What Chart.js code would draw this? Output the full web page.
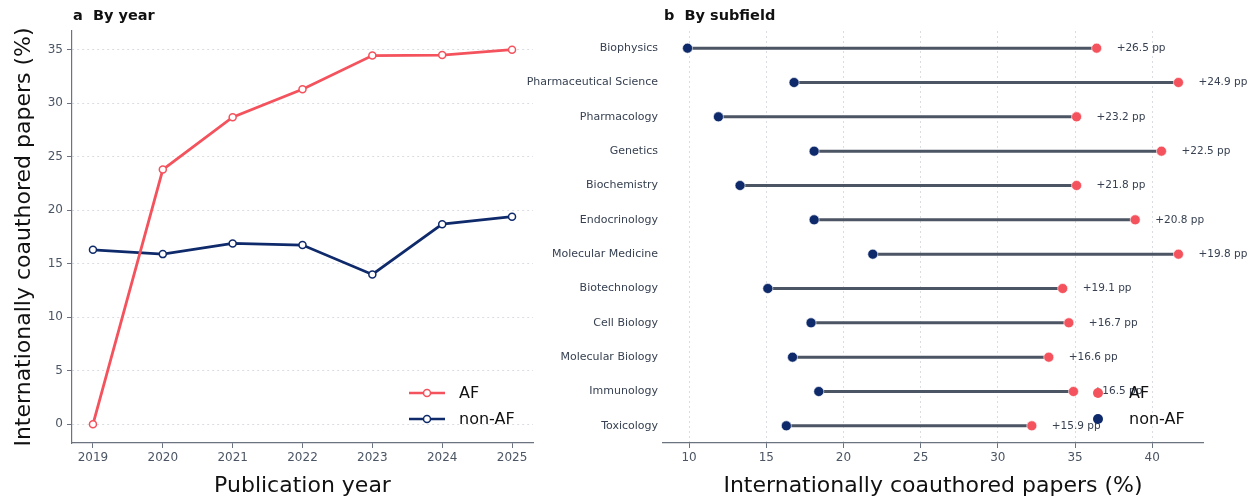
<!DOCTYPE html>
<html>
<head>
<meta charset="utf-8">
<script src="https://cdn.jsdelivr.net/npm/chart.js@4"></script>
<style>
  html, body { margin: 0; padding: 0; background: #ffffff; }
  #wrap { position: relative; width: 1255px; height: 500px; overflow: hidden; }
  #yearCanvasBox { position: absolute; left: 0; top: 0; width: 545px; height: 500px; }
  #fieldCanvasBox { position: absolute; left: 520px; top: 0; width: 735px; height: 500px; }
</style>
</head>
<body>
<div id="wrap">
  <div id="fieldCanvasBox"><canvas id="fieldChart" width="735" height="500"></canvas></div>
  <div id="yearCanvasBox"><canvas id="yearChart" width="545" height="500"></canvas></div>
</div>
<script>
// panel a: by year
const years = [2019, 2020, 2021, 2022, 2023, 2024, 2025];
const afByYear = [0.0, 23.8, 28.7, 31.3, 34.45, 34.5, 35.0];
const nonAfByYear = [16.3, 15.9, 16.9, 16.75, 14.0, 18.7, 19.4];
const yearTicks = [0, 5, 10, 15, 20, 25, 30, 35];

// panel b: by subfield
const subfields = [
    "Biophysics", "Pharmaceutical Science", "Pharmacology", "Genetics",
    "Biochemistry", "Endocrinology", "Molecular Medicine", "Biotechnology",
    "Cell Biology", "Molecular Biology", "Immunology", "Toxicology"
];
const afBySubfield = [36.4, 41.7, 35.1, 40.6, 35.1, 38.9, 41.7, 34.2, 34.6, 33.3, 34.9, 32.2];
const nonAfBySubfield = [9.9, 16.8, 11.9, 18.1, 13.3, 18.1, 21.9, 15.1, 17.9, 16.7, 18.4, 16.3];
const gapLabels = ["+26.5 pp", "+24.9 pp", "+23.2 pp", "+22.5 pp", "+21.8 pp", "+20.8 pp",
                   "+19.8 pp", "+19.1 pp", "+16.7 pp", "+16.6 pp", "+16.5 pp", "+15.9 pp"];
const subfieldTicks = [10, 15, 20, 25, 30, 35, 40];

const AF_RED = "#f4525c";
const NON_AF_NAVY = "#0f2a6b";
const AXIS_GRAY = "#6b7280";
const TICK_TEXT = "#4b5563";
const GRID_GRAY = "#d9dce1";

Chart.defaults.font.family = "'DejaVu Sans', sans-serif";
Chart.defaults.color = TICK_TEXT;
Chart.defaults.animation = false;

// small helper plugin for the "a  By year" style panel titles
const panelTitle = {
    id: "panelTitle",
    afterDraw(chart, args, opts) {
        const ctx = chart.ctx;
        ctx.save();
        ctx.font = "bold 14.5px 'DejaVu Sans'";
        ctx.fillStyle = "#111111";
        ctx.textBaseline = "middle";
        ctx.textAlign = "left";
        ctx.fillText(opts.text, chart.chartArea.left + 1, 16);
        ctx.restore();
    }
};

// legend placed inside the lower right corner of the plot
const cornerLegend = {
    id: "cornerLegend",
    afterDraw(chart, args, opts) {
        let ctx = chart.ctx;
        let area = chart.chartArea;
        ctx.save();
        ctx.font = "16px 'DejaVu Sans'";
        ctx.textBaseline = "middle";
        ctx.textAlign = "left";
        opts.items.forEach((item, i) => {
            let y = area.bottom - opts.rowOffsets[i];
            let mx = area.right - opts.markerOffset;
            if (opts.style === "line") {
                ctx.strokeStyle = item.color;
                ctx.lineWidth = 2.6;
                ctx.beginPath();
                ctx.moveTo(mx - 18, y);
                ctx.lineTo(mx + 18, y);
                ctx.stroke();
                ctx.beginPath();
                ctx.arc(mx, y, 3.5, 0, Math.PI * 2);
                ctx.fillStyle = "#ffffff";
                ctx.fill();
                ctx.lineWidth = 1.5;
                ctx.stroke();
            } else {
                ctx.beginPath();
                ctx.arc(mx, y, 5, 0, Math.PI * 2);
                ctx.fillStyle = item.color;
                ctx.fill();
            }
            ctx.fillStyle = "#111111";
            ctx.fillText(item.label, area.right - opts.textOffset, y + 1);
        });
        ctx.restore();
    }
};

// "+xx.x pp" text to the right of each AF dot
const gapText = {
    id: "gapText",
    afterDatasetsDraw(chart) {
        let ctx = chart.ctx;
        let xScale = chart.scales.x;
        let yScale = chart.scales.y;
        ctx.save();
        ctx.font = "10.5px 'DejaVu Sans'";
        ctx.fillStyle = "#374151";
        ctx.textBaseline = "middle";
        ctx.textAlign = "left";
        for (let i = 0; i < subfields.length; i++) {
            let x = xScale.getPixelForValue(afBySubfield[i]) + 20;
            let y = yScale.getPixelForValue(i);
            ctx.fillText(gapLabels[i], x, y);
        }
        ctx.restore();
    }
};

function fixedTicks(values) {
    return function (scale) {
        scale.ticks = values.map(v => ({ value: v }));
    };
}

function lineSeries(label, values, color) {
    return {
        label: label,
        data: values.map((v, i) => ({ x: years[i], y: v })),
        borderColor: color,
        borderWidth: 2.8,
        pointRadius: 3.5,
        pointBorderWidth: 1.5,
        pointBackgroundColor: "#ffffff",
        pointBorderColor: color,
        tension: 0
    };
}

new Chart(document.getElementById("yearChart"), {
    type: "line",
    data: {
        datasets: [
            lineSeries("AF", afByYear, AF_RED),
            lineSeries("non-AF", nonAfByYear, NON_AF_NAVY)
        ]
    },
    options: {
        responsive: false,
        layout: { padding: { top: 31, right: 12, left: 0, bottom: 0 } },
        plugins: {
            legend: { display: false },
            tooltip: { enabled: false },
            panelTitle: { text: "a  By year" },
            cornerLegend: {
                style: "line",
                items: [{ label: "AF", color: AF_RED }, { label: "non-AF", color: NON_AF_NAVY }],
                rowOffsets: [50, 24],
                markerOffset: 106,
                textOffset: 74
            }
        },
        scales: {
            x: {
                type: "linear",
                min: 2018.7,
                max: 2025.3,
                afterBuildTicks: fixedTicks(years),
                afterFit(scale) { scale.height = 57; },
                grid: { drawOnChartArea: false, tickLength: 5, tickColor: AXIS_GRAY, tickWidth: 1 },
                border: { color: AXIS_GRAY, width: 1.2 },
                ticks: { padding: 3, font: { size: 12 }, color: TICK_TEXT, callback: v => String(v) },
                title: { display: true, text: "Publication year", color: "#111111",
                         font: { size: 22 }, padding: { top: 0, bottom: 1 } }
            },
            y: {
                type: "linear",
                min: -1.75,
                max: 36.75,
                afterBuildTicks: fixedTicks(yearTicks),
                afterFit(scale) { scale.width = 72; },
                grid: { color: GRID_GRAY, lineWidth: 1, tickLength: 5, tickColor: AXIS_GRAY, tickWidth: 1 },
                border: { color: AXIS_GRAY, width: 1.2, dash: [2, 3] },
                ticks: { padding: 4, font: { size: 12 }, color: TICK_TEXT },
                title: { display: true, text: "Internationally coauthored papers (%)", color: "#111111",
                         font: { size: 22 }, padding: { top: 11, bottom: 0 } }
            }
        }
    },
    plugins: [panelTitle, cornerLegend]
});

new Chart(document.getElementById("fieldChart"), {
    type: "bar",
    data: {
        labels: subfields,
        datasets: [
            {
                type: "line",
                label: "AF",
                data: afBySubfield,
                showLine: false,
                pointRadius: 5,
                pointBorderWidth: 0.6,
                pointBackgroundColor: AF_RED,
                pointBorderColor: "#ffffff",
                order: 1
            },
            {
                type: "line",
                label: "non-AF",
                data: nonAfBySubfield,
                showLine: false,
                pointRadius: 5,
                pointBorderWidth: 0.6,
                pointBackgroundColor: NON_AF_NAVY,
                pointBorderColor: "#ffffff",
                order: 1
            },
            {
                type: "bar",
                label: "gap",
                data: nonAfBySubfield.map((v, i) => [v, afBySubfield[i]]),
                backgroundColor: "#4b5563",
                barThickness: 2.4,
                borderSkipped: false,
                order: 2
            }
        ]
    },
    options: {
        responsive: false,
        indexAxis: "y",
        layout: { padding: { top: 31, right: 52, left: 0, bottom: 0 } },
        plugins: {
            legend: { display: false },
            tooltip: { enabled: false },
            panelTitle: { text: "b  By subfield" },
            cornerLegend: {
                style: "dot",
                items: [{ label: "AF", color: AF_RED }, { label: "non-AF", color: NON_AF_NAVY }],
                rowOffsets: [50, 24],
                markerOffset: 105,
                textOffset: 74
            }
        },
        scales: {
            x: {
                type: "linear",
                min: 8.31,
                max: 43.29,
                afterBuildTicks: fixedTicks(subfieldTicks),
                afterFit(scale) { scale.height = 57; },
                grid: { color: GRID_GRAY, lineWidth: 1, tickLength: 5, tickColor: AXIS_GRAY, tickWidth: 1 },
                border: { color: AXIS_GRAY, width: 1.2, dash: [2, 3] },
                ticks: { padding: 3, font: { size: 12 }, color: TICK_TEXT },
                title: { display: true, text: "Internationally coauthored papers (%)", color: "#111111",
                         font: { size: 22 }, padding: { top: 0, bottom: 1 } }
            },
            y: {
                type: "category",
                offset: true,
                afterFit(scale) { scale.width = 143; },
                grid: { display: false, drawTicks: false },
                border: { display: false },
                ticks: { padding: 5, font: { size: 11 }, color: "#374151" }
            }
        }
    },
    plugins: [panelTitle, gapText, cornerLegend]
});
</script>
</body>
</html>
